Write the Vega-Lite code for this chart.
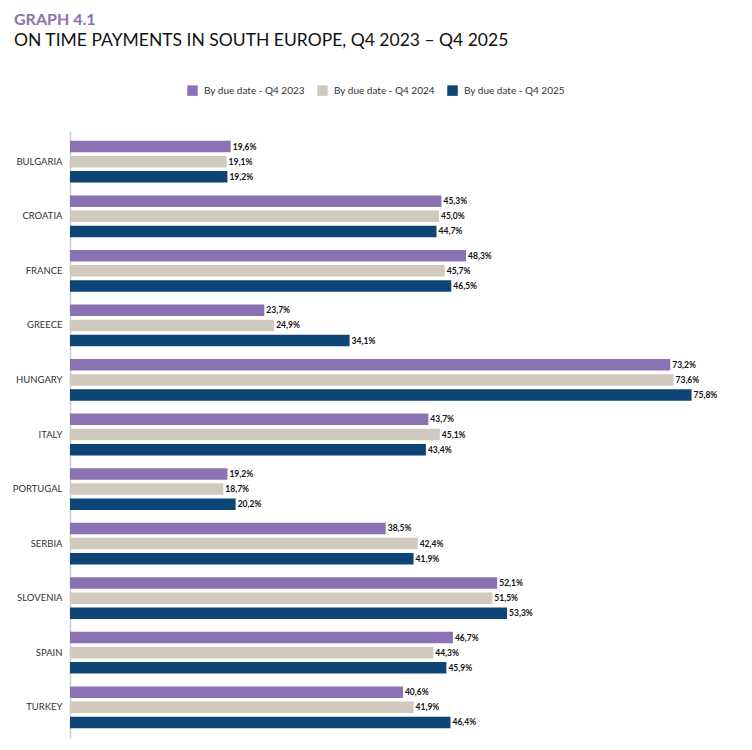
{
  "$schema": "https://vega.github.io/schema/vega-lite/v6.json",
  "width": 656,
  "height": 607,
  "autosize": "none",
  "padding": {"left": 70, "top": 131, "right": 26, "bottom": 12},
  "background": "white",
  "title": {
    "text": "GRAPH 4.1",
    "subtitle": "ON TIME PAYMENTS IN SOUTH EUROPE, Q4 2023 – Q4 2025",
    "anchor": "start",
    "frame": "group",
    "dx": -56,
    "offset": 36,
    "font": "Lato",
    "fontSize": 16,
    "fontWeight": "bold",
    "color": "#8a72b3",
    "subtitleFont": "Lato",
    "subtitleFontSize": 17.5,
    "subtitleColor": "#111111",
    "subtitlePadding": 4
  },
  "config": {
    "view": {"stroke": null},
    "locale": {
      "number": {"decimal": ",", "thousands": ".", "grouping": [3], "currency": ["", " €"]}
    }
  },
  "data": {
    "values": [
      {"country": "BULGARIA", "series": "By due date - Q4 2023", "share": 0.196},
      {"country": "BULGARIA", "series": "By due date - Q4 2024", "share": 0.191},
      {"country": "BULGARIA", "series": "By due date - Q4 2025", "share": 0.192},
      {"country": "CROATIA", "series": "By due date - Q4 2023", "share": 0.453},
      {"country": "CROATIA", "series": "By due date - Q4 2024", "share": 0.450},
      {"country": "CROATIA", "series": "By due date - Q4 2025", "share": 0.447},
      {"country": "FRANCE", "series": "By due date - Q4 2023", "share": 0.483},
      {"country": "FRANCE", "series": "By due date - Q4 2024", "share": 0.457},
      {"country": "FRANCE", "series": "By due date - Q4 2025", "share": 0.465},
      {"country": "GREECE", "series": "By due date - Q4 2023", "share": 0.237},
      {"country": "GREECE", "series": "By due date - Q4 2024", "share": 0.249},
      {"country": "GREECE", "series": "By due date - Q4 2025", "share": 0.341},
      {"country": "HUNGARY", "series": "By due date - Q4 2023", "share": 0.732},
      {"country": "HUNGARY", "series": "By due date - Q4 2024", "share": 0.736},
      {"country": "HUNGARY", "series": "By due date - Q4 2025", "share": 0.758},
      {"country": "ITALY", "series": "By due date - Q4 2023", "share": 0.437},
      {"country": "ITALY", "series": "By due date - Q4 2024", "share": 0.451},
      {"country": "ITALY", "series": "By due date - Q4 2025", "share": 0.434},
      {"country": "PORTUGAL", "series": "By due date - Q4 2023", "share": 0.192},
      {"country": "PORTUGAL", "series": "By due date - Q4 2024", "share": 0.187},
      {"country": "PORTUGAL", "series": "By due date - Q4 2025", "share": 0.202},
      {"country": "SERBIA", "series": "By due date - Q4 2023", "share": 0.385},
      {"country": "SERBIA", "series": "By due date - Q4 2024", "share": 0.424},
      {"country": "SERBIA", "series": "By due date - Q4 2025", "share": 0.419},
      {"country": "SLOVENIA", "series": "By due date - Q4 2023", "share": 0.521},
      {"country": "SLOVENIA", "series": "By due date - Q4 2024", "share": 0.515},
      {"country": "SLOVENIA", "series": "By due date - Q4 2025", "share": 0.533},
      {"country": "SPAIN", "series": "By due date - Q4 2023", "share": 0.467},
      {"country": "SPAIN", "series": "By due date - Q4 2024", "share": 0.443},
      {"country": "SPAIN", "series": "By due date - Q4 2025", "share": 0.459},
      {"country": "TURKEY", "series": "By due date - Q4 2023", "share": 0.406},
      {"country": "TURKEY", "series": "By due date - Q4 2024", "share": 0.419},
      {"country": "TURKEY", "series": "By due date - Q4 2025", "share": 0.464}
    ]
  },
  "encoding": {
    "y": {
      "field": "country",
      "type": "nominal",
      "sort": null,
      "scale": {"paddingInner": 0.234, "paddingOuter": 0.18},
      "axis": {
        "title": null,
        "ticks": false,
        "domain": true,
        "domainColor": "#cfcfcf",
        "domainWidth": 1.6,
        "labelFont": "Lato",
        "labelFontSize": 9.5,
        "labelColor": "#333333",
        "labelPadding": 8
      }
    },
    "yOffset": {
      "field": "series",
      "type": "nominal",
      "sort": null,
      "scale": {"paddingInner": 0.24, "paddingOuter": 0}
    },
    "x": {
      "field": "share",
      "type": "quantitative",
      "scale": {"domain": [0, 0.8], "nice": false},
      "axis": null
    }
  },
  "layer": [
    {
      "mark": {"type": "bar"},
      "encoding": {
        "color": {
          "field": "series",
          "type": "nominal",
          "sort": null,
          "scale": {"range": ["#8a72b3", "#d0c9be", "#0d4676"]},
          "legend": {
            "title": null,
            "orient": "none",
            "direction": "horizontal",
            "legendX": 117,
            "legendY": -46,
            "symbolType": "square",
            "symbolSize": 110,
            "symbolStrokeWidth": 0,
            "labelFont": "Lato",
            "labelFontSize": 10,
            "labelColor": "#333333",
            "labelOffset": 6,
            "columnPadding": 12
          }
        }
      }
    },
    {
      "mark": {
        "type": "text",
        "align": "left",
        "baseline": "middle",
        "dx": 2,
        "font": "Lato",
        "fontSize": 8.5,
        "fontWeight": "bold",
        "color": "#111111"
      },
      "encoding": {
        "text": {"field": "share", "type": "quantitative", "format": ".1%"}
      }
    }
  ]
}
